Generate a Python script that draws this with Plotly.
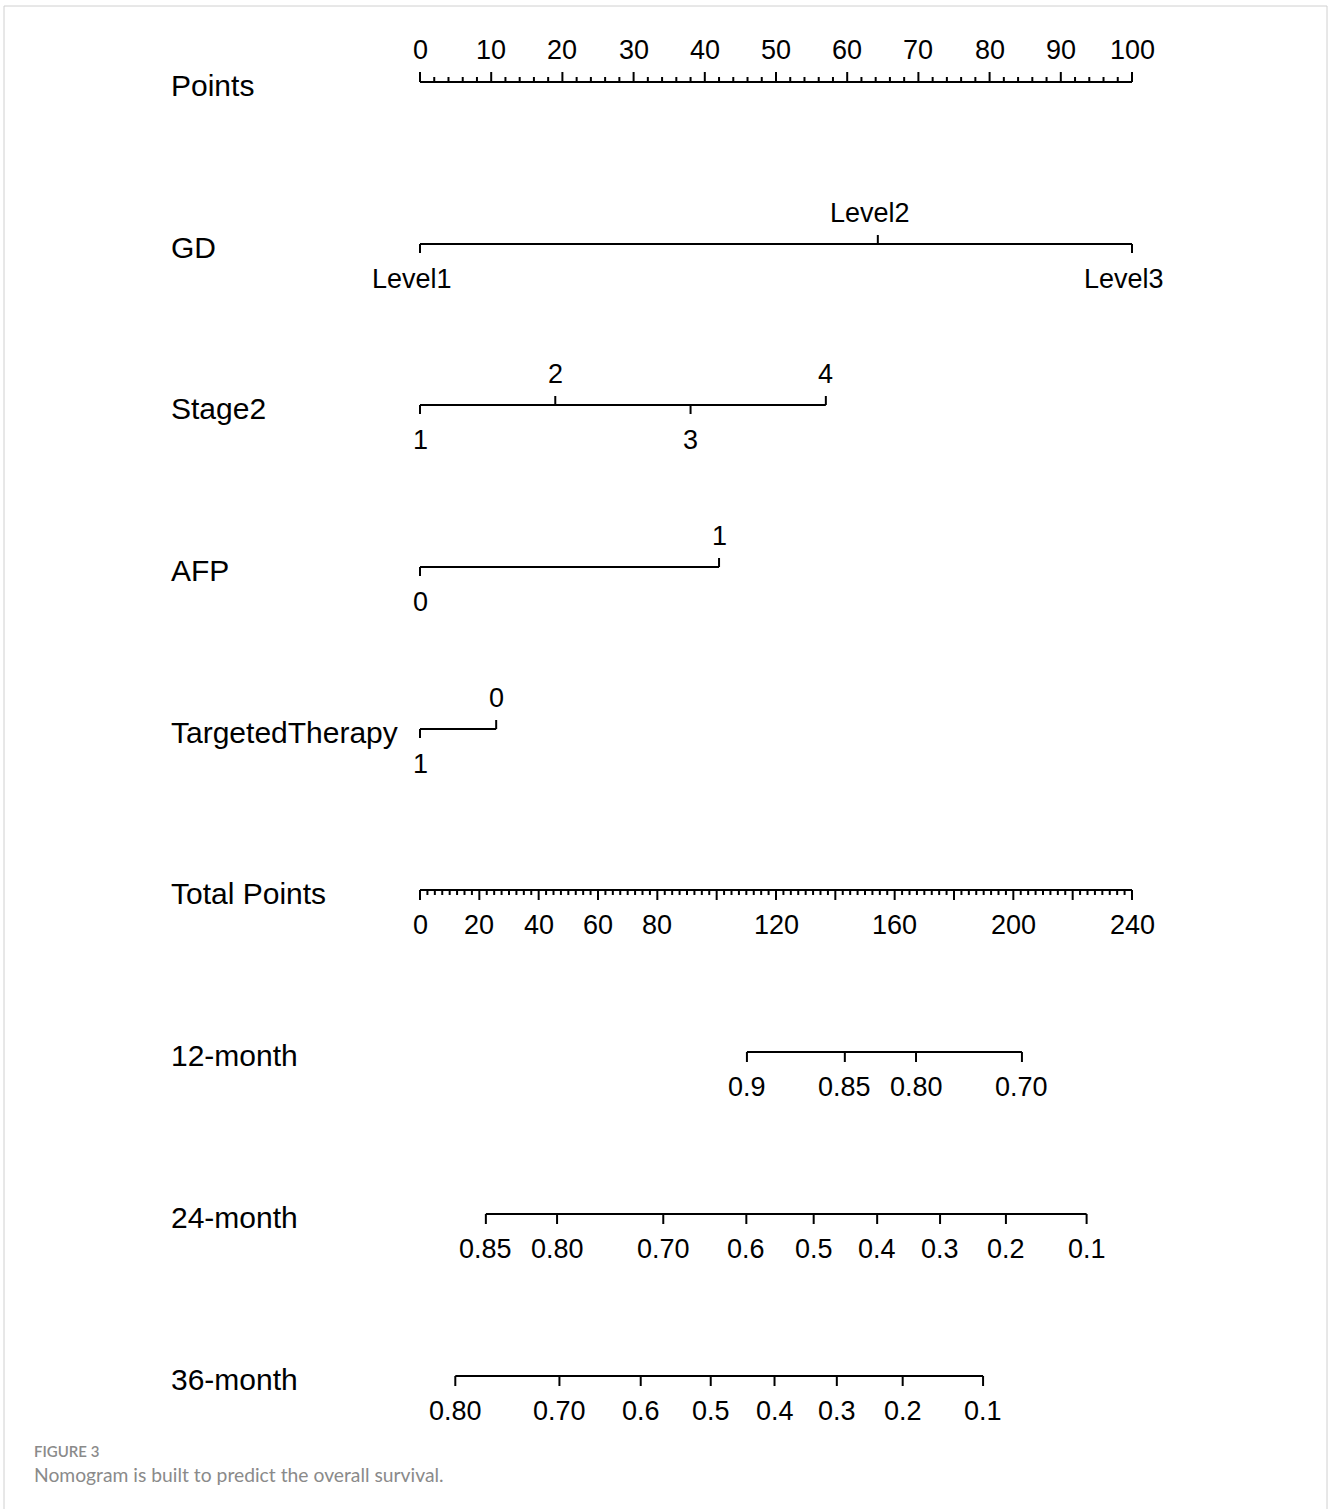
import plotly.graph_objects as go

# ---------------- data ----------------
row_names = ["Points", "GD", "Stage2", "AFP", "TargetedTherapy", "Total Points",
             "12-month", "24-month", "36-month"]

points_major = list(range(0, 101, 10))
points_minor = [v * 2 for v in range(0, 51)]

gd_levels = ["Level1", "Level2", "Level3"]
gd_points = [0, 64.3, 100]
gd_side = ["below", "above", "below"]

stage_levels = ["1", "2", "3", "4"]
stage_points = [0, 19.0, 38.0, 57.0]
stage_side = ["below", "above", "below", "above"]

afp_levels = ["0", "1"]
afp_points = [0, 42.0]
afp_side = ["below", "above"]

tt_levels = ["1", "0"]
tt_points = [0, 10.7]
tt_side = ["below", "above"]

total_major = list(range(0, 241, 20))
total_minor = [v * 2.5 for v in range(0, 97)]
total_labels = [0, 20, 40, 60, 80, 120, 160, 200, 240]

surv12_labels = ["0.9", "0.85", "0.80", "0.70"]
surv12_total = [110.2, 143.2, 167.2, 202.9]

surv24_labels = ["0.85", "0.80", "0.70", "0.6", "0.5", "0.4", "0.3", "0.2", "0.1"]
surv24_total = [22.2, 46.2, 82.0, 110.0, 132.7, 154.1, 175.3, 197.5, 224.7]

surv36_labels = ["0.80", "0.70", "0.6", "0.5", "0.4", "0.3", "0.2", "0.1"]
surv36_total = [11.9, 47.0, 74.4, 98.0, 119.5, 140.5, 162.7, 189.8]

# ---------------- layout constants ----------------
W, H = 1328, 1509
X0_PX, X1_PX = 420, 1132          # pixel positions of the scale ends
row_y = [82, 244, 405, 567, 729, 890, 1052, 1214, 1376]
LINE_W = 2
FONT = "Liberation Sans, Arial, sans-serif"
ROW_FS = 30
TICK_FS = 27

pp = (X1_PX - X0_PX) / 100.0      # px per point
tp = (X1_PX - X0_PX) / 240.0      # px per total point
x_range = [-X0_PX / pp, (W - X0_PX) / pp]
x2_range = [-X0_PX / tp, (W - X0_PX) / tp]

fig = go.Figure()
annotations = []


def seg_trace(xs, y, ticks, axis):
    """Horizontal line from min to max of xs plus tick segments.
    ticks: list of (x, dy)."""
    X, Y = [min(xs), max(xs), None], [y, y, None]
    for x, dy in ticks:
        X += [x, x, None]
        Y += [y, y + dy, None]
    fig.add_trace(go.Scatter(x=X, y=Y, mode="lines", xaxis=axis, yaxis="y",
                             line=dict(color="black", width=LINE_W),
                             hoverinfo="skip", showlegend=False))


def label(x, y, text, axis, size=TICK_FS, xshift=0):
    annotations.append(dict(x=x, y=y, xref=axis, yref="y", text=text,
                            showarrow=False, xanchor="center", yanchor="middle",
                            xshift=xshift,
                            font=dict(family=FONT, size=size, color="black")))


# row names
for name, y in zip(row_names, row_y):
    annotations.append(dict(x=169 / W, y=y + 3, xref="paper", yref="y", text=name,
                            showarrow=False, xanchor="left", yanchor="middle",
                            font=dict(family=FONT, size=ROW_FS, color="black")))

# Points axis (ticks up, labels above)
ticks = [(v, -10) for v in points_major] + [(v, -5) for v in points_minor if v not in points_major]
seg_trace([0, 100], row_y[0], ticks, "x")
for v in points_major:
    label(v, row_y[0] - 32, str(v), "x")

# categorical predictors
def predictor(levels, pts, sides, y, xshift=0):
    ticks = [(p, -9 if s == "above" else 9) for p, s in zip(pts, sides)]
    seg_trace(pts, y, ticks, "x")
    for lv, p, s in zip(levels, pts, sides):
        label(p, y - 31 if s == "above" else y + 35, lv, "x", xshift=xshift)

predictor(gd_levels, gd_points, gd_side, row_y[1], xshift=-8)
predictor(stage_levels, stage_points, stage_side, row_y[2])
predictor(afp_levels, afp_points, afp_side, row_y[3])
predictor(tt_levels, tt_points, tt_side, row_y[4])

# Total points axis (ticks down, labels below)
ticks = [(v, 10) for v in total_major] + [(v, 5) for v in total_minor if v not in total_major]
seg_trace([0, 240], row_y[5], ticks, "x2")
for v in total_labels:
    label(v, row_y[5] + 35, str(v), "x2")

# survival axes
for labs, tots, y in [(surv12_labels, surv12_total, row_y[6]),
                      (surv24_labels, surv24_total, row_y[7]),
                      (surv36_labels, surv36_total, row_y[8])]:
    seg_trace(tots, y, [(t, 10) for t in tots], "x2")
    for lb, t in zip(labs, tots):
        label(t, y + 35, lb, "x2")

# caption
annotations.append(dict(x=32 / W, y=1451, xref="paper", yref="y", text="FIGURE 3",
                        showarrow=False, xanchor="left", yanchor="middle",
                        font=dict(family="Lato, Open Sans, sans-serif", size=15,
                                  color="#8a8a8a", weight=600)))
annotations.append(dict(x=32 / W, y=1474, xref="paper", yref="y",
                        text="Nomogram is built to predict the overall survival.",
                        showarrow=False, xanchor="left", yanchor="middle",
                        font=dict(family="Lato, Open Sans, sans-serif", size=19.3,
                                  color="#8a8a8a")))

shapes = [dict(type="rect", xref="paper", yref="y", x0=4 / W, x1=1327 / W, y0=6, y1=1520,
               line=dict(color="#d0d0d0", width=1), fillcolor="rgba(0,0,0,0)", layer="below")]

fig.update_layout(
    width=W, height=H, autosize=False,
    margin=dict(l=0, r=0, t=0, b=0),
    paper_bgcolor="white", plot_bgcolor="white",
    showlegend=False,
    xaxis=dict(range=x_range, visible=False, fixedrange=True),
    xaxis2=dict(range=x2_range, overlaying="x", visible=False, fixedrange=True),
    yaxis=dict(range=[H, 0], visible=False, fixedrange=True),
    annotations=annotations,
    shapes=shapes,
)

fig.write_html("out.html", config={"displayModeBar": False},
               post_script="document.body.style.margin='0';document.body.style.overflow='hidden';")
